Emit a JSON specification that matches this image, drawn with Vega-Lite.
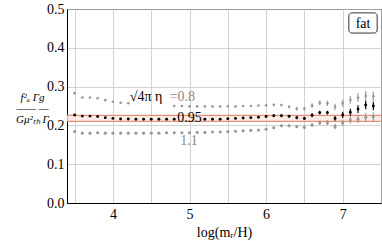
{
  "$schema": "https://vega.github.io/schema/vega-lite/v6.json",
  "width": 314,
  "height": 194,
  "autosize": {"type": "none"},
  "padding": {"left": 67, "top": 9, "right": 1, "bottom": 38},
  "background": "white",
  "config": {
    "view": {"stroke": "black", "strokeWidth": 1},
    "font": "Liberation Serif",
    "axis": {"labelFont": "Liberation Serif", "titleFont": "Liberation Serif", "labelColor": "black", "titleColor": "black", "domainColor": "black", "gridColor": "#c6c6c6", "gridWidth": 0.8, "ticks": false, "labelFontSize": 14, "titleFontSize": 14, "titleFontWeight": "normal"},
    "axisY": {
      "values": [0, 0.02, 0.04, 0.06, 0.08, 0.1, 0.12, 0.14, 0.16, 0.18, 0.2, 0.22, 0.24, 0.26, 0.28, 0.3, 0.32, 0.34, 0.36, 0.38, 0.4, 0.42, 0.44, 0.46, 0.48, 0.5],
      "labelExpr": "abs(datum.value*10 - round(datum.value*10)) < 0.001 ? format(datum.value, '.1f') : ''",
      "labelPadding": 3,
      "titleFontSize": 11,
      "titleLineHeight": 11,
      "titleFontStyle": "italic",
      "titleAngle": 0,
      "titleAlign": "center",
      "titleBaseline": "middle",
      "titleX": -35,
      "titleY": 88
    },
    "axisX": {
      "values": [3.4, 3.5, 3.6, 3.7, 3.8, 3.9, 4, 4.1, 4.2, 4.3, 4.4, 4.5, 4.6, 4.7, 4.8, 4.9, 5, 5.1, 5.2, 5.3, 5.4, 5.5, 5.6, 5.7, 5.8, 5.9, 6, 6.1, 6.2, 6.3, 6.4, 6.5, 6.6, 6.7, 6.8, 6.9, 7, 7.1, 7.2, 7.3, 7.4, 7.5],
      "labelExpr": "abs(datum.value - round(datum.value)) < 0.001 ? format(datum.value, 'd') : ''",
      "labelPadding": 4,
      "labelFlush": false,
      "titlePadding": 4
    }
  },
  "datasets": {
    "pts": [
      {"s": "0.95", "x": 3.5, "y": 0.227, "err": 0},
      {"s": "0.95", "x": 3.6, "y": 0.224, "err": 0},
      {"s": "0.95", "x": 3.7, "y": 0.224, "err": 0},
      {"s": "0.95", "x": 3.8, "y": 0.223, "err": 0},
      {"s": "0.95", "x": 3.9, "y": 0.220, "err": 0},
      {"s": "0.95", "x": 4.0, "y": 0.218, "err": 0},
      {"s": "0.95", "x": 4.1, "y": 0.2165, "err": 0},
      {"s": "0.95", "x": 4.2, "y": 0.2165, "err": 0},
      {"s": "0.95", "x": 4.3, "y": 0.216, "err": 0},
      {"s": "0.95", "x": 4.4, "y": 0.216, "err": 0},
      {"s": "0.95", "x": 4.5, "y": 0.216, "err": 0},
      {"s": "0.95", "x": 4.6, "y": 0.216, "err": 0},
      {"s": "0.95", "x": 4.7, "y": 0.216, "err": 0},
      {"s": "0.95", "x": 4.8, "y": 0.216, "err": 0},
      {"s": "0.95", "x": 5.2, "y": 0.216, "err": 0},
      {"s": "0.95", "x": 5.3, "y": 0.216, "err": 0},
      {"s": "0.95", "x": 5.4, "y": 0.216, "err": 0},
      {"s": "0.95", "x": 5.5, "y": 0.217, "err": 0},
      {"s": "0.95", "x": 5.6, "y": 0.218, "err": 0},
      {"s": "0.95", "x": 5.7, "y": 0.219, "err": 0},
      {"s": "0.95", "x": 5.8, "y": 0.220, "err": 0},
      {"s": "0.95", "x": 5.9, "y": 0.221, "err": 0},
      {"s": "0.95", "x": 6.0, "y": 0.223, "err": 0.002},
      {"s": "0.95", "x": 6.1, "y": 0.225, "err": 0.002},
      {"s": "0.95", "x": 6.2, "y": 0.225, "err": 0.003},
      {"s": "0.95", "x": 6.3, "y": 0.2234, "err": 0.003},
      {"s": "0.95", "x": 6.4, "y": 0.220, "err": 0.004},
      {"s": "0.95", "x": 6.5, "y": 0.218, "err": 0.004},
      {"s": "0.95", "x": 6.6, "y": 0.226, "err": 0.005},
      {"s": "0.95", "x": 6.7, "y": 0.233, "err": 0.005},
      {"s": "0.95", "x": 6.8, "y": 0.233, "err": 0.005},
      {"s": "0.95", "x": 6.9, "y": 0.218, "err": 0.006},
      {"s": "0.95", "x": 7.0, "y": 0.227, "err": 0.008},
      {"s": "0.95", "x": 7.1, "y": 0.234, "err": 0.009},
      {"s": "0.95", "x": 7.2, "y": 0.242, "err": 0.010},
      {"s": "0.95", "x": 7.3, "y": 0.2526, "err": 0.011},
      {"s": "0.95", "x": 7.4, "y": 0.250, "err": 0.011},
      {"s": "0.8", "x": 3.5, "y": 0.283, "err": 0},
      {"s": "0.8", "x": 3.6, "y": 0.272, "err": 0},
      {"s": "0.8", "x": 3.7, "y": 0.272, "err": 0},
      {"s": "0.8", "x": 3.8, "y": 0.270, "err": 0},
      {"s": "0.8", "x": 3.9, "y": 0.265, "err": 0},
      {"s": "0.8", "x": 4.0, "y": 0.261, "err": 0},
      {"s": "0.8", "x": 4.1, "y": 0.2585, "err": 0},
      {"s": "0.8", "x": 4.2, "y": 0.257, "err": 0},
      {"s": "0.8", "x": 4.8, "y": 0.250, "err": 0},
      {"s": "0.8", "x": 4.9, "y": 0.250, "err": 0},
      {"s": "0.8", "x": 5.0, "y": 0.249, "err": 0},
      {"s": "0.8", "x": 5.1, "y": 0.249, "err": 0},
      {"s": "0.8", "x": 5.2, "y": 0.249, "err": 0},
      {"s": "0.8", "x": 5.3, "y": 0.249, "err": 0},
      {"s": "0.8", "x": 5.4, "y": 0.249, "err": 0},
      {"s": "0.8", "x": 5.5, "y": 0.249, "err": 0},
      {"s": "0.8", "x": 5.6, "y": 0.249, "err": 0},
      {"s": "0.8", "x": 5.7, "y": 0.250, "err": 0},
      {"s": "0.8", "x": 5.8, "y": 0.250, "err": 0},
      {"s": "0.8", "x": 5.9, "y": 0.251, "err": 0},
      {"s": "0.8", "x": 6.0, "y": 0.252, "err": 0.002},
      {"s": "0.8", "x": 6.1, "y": 0.253, "err": 0.003},
      {"s": "0.8", "x": 6.2, "y": 0.2526, "err": 0.003},
      {"s": "0.8", "x": 6.3, "y": 0.248, "err": 0.004},
      {"s": "0.8", "x": 6.4, "y": 0.243, "err": 0.005},
      {"s": "0.8", "x": 6.5, "y": 0.243, "err": 0.005},
      {"s": "0.8", "x": 6.6, "y": 0.251, "err": 0.006},
      {"s": "0.8", "x": 6.7, "y": 0.258, "err": 0.006},
      {"s": "0.8", "x": 6.8, "y": 0.257, "err": 0.007},
      {"s": "0.8", "x": 6.9, "y": 0.248, "err": 0.008},
      {"s": "0.8", "x": 7.0, "y": 0.257, "err": 0.009},
      {"s": "0.8", "x": 7.1, "y": 0.2655, "err": 0.010},
      {"s": "0.8", "x": 7.2, "y": 0.272, "err": 0.011},
      {"s": "0.8", "x": 7.3, "y": 0.276, "err": 0.012},
      {"s": "0.8", "x": 7.4, "y": 0.275, "err": 0.012},
      {"s": "1.1", "x": 3.5, "y": 0.184, "err": 0},
      {"s": "1.1", "x": 3.6, "y": 0.180, "err": 0},
      {"s": "1.1", "x": 3.7, "y": 0.180, "err": 0},
      {"s": "1.1", "x": 3.8, "y": 0.181, "err": 0},
      {"s": "1.1", "x": 3.9, "y": 0.180, "err": 0},
      {"s": "1.1", "x": 4.0, "y": 0.180, "err": 0},
      {"s": "1.1", "x": 4.1, "y": 0.180, "err": 0},
      {"s": "1.1", "x": 4.2, "y": 0.180, "err": 0},
      {"s": "1.1", "x": 4.3, "y": 0.180, "err": 0},
      {"s": "1.1", "x": 4.4, "y": 0.180, "err": 0},
      {"s": "1.1", "x": 4.5, "y": 0.180, "err": 0},
      {"s": "1.1", "x": 4.6, "y": 0.180, "err": 0},
      {"s": "1.1", "x": 4.7, "y": 0.181, "err": 0},
      {"s": "1.1", "x": 4.8, "y": 0.181, "err": 0},
      {"s": "1.1", "x": 4.9, "y": 0.181, "err": 0},
      {"s": "1.1", "x": 5.0, "y": 0.181, "err": 0},
      {"s": "1.1", "x": 5.1, "y": 0.182, "err": 0},
      {"s": "1.1", "x": 5.2, "y": 0.182, "err": 0},
      {"s": "1.1", "x": 5.3, "y": 0.183, "err": 0},
      {"s": "1.1", "x": 5.4, "y": 0.183, "err": 0},
      {"s": "1.1", "x": 5.5, "y": 0.184, "err": 0},
      {"s": "1.1", "x": 5.6, "y": 0.185, "err": 0},
      {"s": "1.1", "x": 5.7, "y": 0.186, "err": 0},
      {"s": "1.1", "x": 5.8, "y": 0.187, "err": 0},
      {"s": "1.1", "x": 5.9, "y": 0.188, "err": 0},
      {"s": "1.1", "x": 6.0, "y": 0.190, "err": 0.002},
      {"s": "1.1", "x": 6.1, "y": 0.194, "err": 0.003},
      {"s": "1.1", "x": 6.2, "y": 0.199, "err": 0.003},
      {"s": "1.1", "x": 6.3, "y": 0.199, "err": 0.004},
      {"s": "1.1", "x": 6.4, "y": 0.197, "err": 0.004},
      {"s": "1.1", "x": 6.5, "y": 0.195, "err": 0.005},
      {"s": "1.1", "x": 6.6, "y": 0.201, "err": 0.005},
      {"s": "1.1", "x": 6.7, "y": 0.207, "err": 0.006},
      {"s": "1.1", "x": 6.8, "y": 0.207, "err": 0.006},
      {"s": "1.1", "x": 6.9, "y": 0.197, "err": 0.007},
      {"s": "1.1", "x": 7.0, "y": 0.207, "err": 0.008},
      {"s": "1.1", "x": 7.1, "y": 0.214, "err": 0.009},
      {"s": "1.1", "x": 7.2, "y": 0.216, "err": 0.010},
      {"s": "1.1", "x": 7.3, "y": 0.221, "err": 0.011},
      {"s": "1.1", "x": 7.4, "y": 0.2225, "err": 0.011}
    ],
    "band": [{"lo": 0.2105, "hi": 0.226}],
    "labels": [
      {"x": 4.22, "y": 0.272, "t": "√4π η", "c": "black"},
      {"x": 4.74, "y": 0.272, "t": "=0.8", "c": "#8a8a8a"},
      {"x": 4.84, "y": 0.218, "t": "0.95", "c": "black"},
      {"x": 4.88, "y": 0.161, "t": "1.1", "c": "#8a8a8a"}
    ],
    "box": [{"x1": 7.08, "x2": 7.45, "y1": 0.438, "y2": 0.49, "xm": 7.265, "ym": 0.462, "t": "fat"}]
  },
  "layer": [
    {
      "data": {"name": "band"},
      "mark": {"type": "rect", "fill": "#fbe6df", "opacity": 0.8},
      "encoding": {
        "y": {"field": "lo", "type": "quantitative", "scale": {"domain": [0, 0.5], "nice": false, "zero": false}, "title": ["f²ₐ       Γg", "——    —", "Gμ²ₜₕ     Γ"]},
        "y2": {"field": "hi"}
      }
    },
    {
      "data": {"name": "band"},
      "mark": {"type": "rule", "color": "#e07a5a", "strokeWidth": 1},
      "encoding": {"y": {"field": "lo", "type": "quantitative", "scale": {"domain": [0, 0.5], "nice": false, "zero": false}, "title": ["f²ₐ       Γg", "——    —", "Gμ²ₜₕ     Γ"]}}
    },
    {
      "data": {"name": "band"},
      "mark": {"type": "rule", "color": "#e07a5a", "strokeWidth": 1},
      "encoding": {"y": {"field": "hi", "type": "quantitative", "scale": {"domain": [0, 0.5], "nice": false, "zero": false}, "title": ["f²ₐ       Γg", "——    —", "Gμ²ₜₕ     Γ"]}}
    },
    {
      "data": {"name": "pts"},
      "transform": [{"filter": "datum.err > 0"}],
      "mark": {"type": "errorbar", "ticks": false, "thickness": 1.2, "strokeDash": [2, 1]},
      "encoding": {
        "x": {"field": "x", "type": "quantitative", "scale": {"domain": [3.4, 7.5], "nice": false, "zero": false}, "title": "log(mᵣ/H)"},
        "y": {"field": "y", "type": "quantitative", "scale": {"domain": [0, 0.5], "nice": false, "zero": false}, "title": ["f²ₐ       Γg", "——    —", "Gμ²ₜₕ     Γ"]},
        "yError": {"field": "err"},
        "color": {"field": "s", "type": "nominal", "scale": {"domain": ["0.8", "0.95", "1.1"], "range": ["#999999", "black", "#999999"]}, "legend": null}
      }
    },
    {
      "data": {"name": "pts"},
      "mark": {"type": "circle", "opacity": 1},
      "encoding": {
        "x": {"field": "x", "type": "quantitative", "scale": {"domain": [3.4, 7.5], "nice": false, "zero": false}, "title": "log(mᵣ/H)"},
        "y": {"field": "y", "type": "quantitative", "scale": {"domain": [0, 0.5], "nice": false, "zero": false}, "title": ["f²ₐ       Γg", "——    —", "Gμ²ₜₕ     Γ"]},
        "size": {"field": "s", "type": "nominal", "scale": {"domain": ["0.8", "0.95", "1.1"], "range": [7, 10, 7]}, "legend": null},
        "color": {"field": "s", "type": "nominal", "scale": {"domain": ["0.8", "0.95", "1.1"], "range": ["#999999", "black", "#999999"]}, "legend": null}
      }
    },
    {
      "data": {"name": "labels"},
      "mark": {"type": "text", "align": "left", "baseline": "middle", "fontSize": 14, "font": "Liberation Serif"},
      "encoding": {
        "x": {"field": "x", "type": "quantitative", "scale": {"domain": [3.4, 7.5], "nice": false, "zero": false}, "title": "log(mᵣ/H)"},
        "y": {"field": "y", "type": "quantitative", "scale": {"domain": [0, 0.5], "nice": false, "zero": false}, "title": ["f²ₐ       Γg", "——    —", "Gμ²ₜₕ     Γ"]},
        "text": {"field": "t"},
        "color": {"field": "c", "type": "nominal", "scale": null}
      }
    },
    {
      "data": {"name": "box"},
      "mark": {"type": "rect", "fill": "white", "stroke": "#333", "strokeWidth": 1, "cornerRadius": 3},
      "encoding": {
        "x": {"field": "x1", "type": "quantitative", "scale": {"domain": [3.4, 7.5], "nice": false, "zero": false}, "title": "log(mᵣ/H)"},
        "x2": {"field": "x2"},
        "y": {"field": "y1", "type": "quantitative", "scale": {"domain": [0, 0.5], "nice": false, "zero": false}, "title": ["f²ₐ       Γg", "——    —", "Gμ²ₜₕ     Γ"]},
        "y2": {"field": "y2"}
      }
    },
    {
      "data": {"name": "box"},
      "mark": {"type": "text", "align": "center", "baseline": "middle", "fontSize": 14, "font": "Liberation Serif", "color": "black"},
      "encoding": {
        "x": {"field": "xm", "type": "quantitative", "scale": {"domain": [3.4, 7.5], "nice": false, "zero": false}, "title": "log(mᵣ/H)"},
        "y": {"field": "ym", "type": "quantitative", "scale": {"domain": [0, 0.5], "nice": false, "zero": false}, "title": ["f²ₐ       Γg", "——    —", "Gμ²ₜₕ     Γ"]},
        "text": {"field": "t"}
      }
    }
  ]
}
